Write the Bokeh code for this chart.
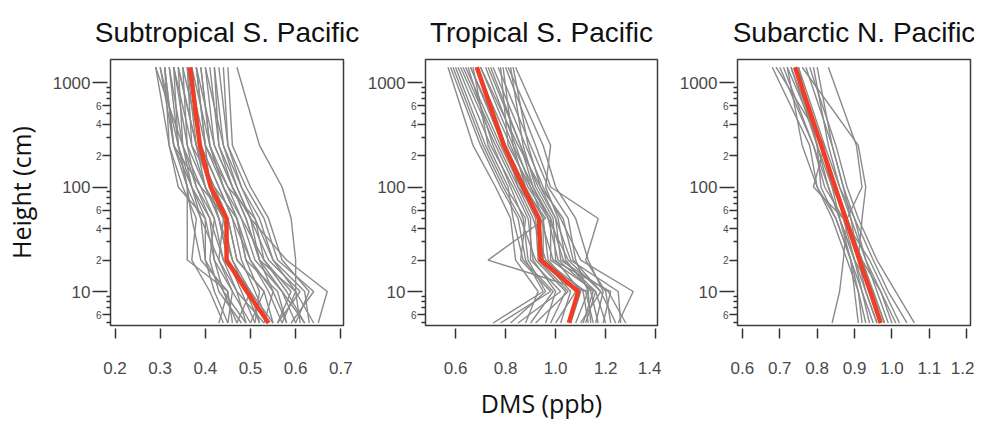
from bokeh.plotting import figure
from bokeh.models import LogAxis, FixedTicker, PrintfTickFormatter, Range1d
from bokeh.layouts import row
from bokeh.embed import file_html
from bokeh.resources import INLINE

# ---------------- data ----------------
heights = [5, 10, 20, 50, 100, 250, 1400]  # cm

titles = ["Subtropical S. Pacific", "Tropical S. Pacific", "Subarctic N. Pacific"]
x_ticks = [[0.2, 0.3, 0.4, 0.5, 0.6, 0.7],
           [0.6, 0.8, 1.0, 1.2, 1.4],
           [0.6, 0.7, 0.8, 0.9, 1.0, 1.1, 1.2]]
x_ranges = [(0.19, 0.706), (0.48, 1.407), (0.587, 1.21)]
y_lims = (4.73, 1660)
y_major = [10, 100, 1000]
y_minor_labelled = [2, 4, 6, 20, 40, 60, 200, 400, 600]
y_minor = [3, 5, 7, 8, 9, 30, 50, 70, 80, 90, 300, 500, 700, 800, 900]

# DMS (ppb) at each height, one list per profile
subtropical_profiles = [
    [0.47, 0.44, 0.40, 0.40, 0.37, 0.34, 0.30],
    [0.50, 0.46, 0.42, 0.41, 0.38, 0.35, 0.32],
    [0.52, 0.50, 0.46, 0.43, 0.40, 0.37, 0.33],
    [0.55, 0.53, 0.47, 0.45, 0.42, 0.38, 0.34],
    [0.58, 0.56, 0.49, 0.47, 0.44, 0.40, 0.36],
    [0.61, 0.60, 0.52, 0.49, 0.46, 0.42, 0.38],
    [0.63, 0.62, 0.55, 0.51, 0.48, 0.44, 0.40],
    [0.65, 0.67, 0.58, 0.50, 0.47, 0.43, 0.41],
    [0.44, 0.41, 0.37, 0.38, 0.35, 0.32, 0.29],
    [0.46, 0.45, 0.36, 0.36, 0.36, 0.33, 0.31],
    [0.57, 0.60, 0.60, 0.59, 0.57, 0.52, 0.47],
    [0.49, 0.47, 0.44, 0.42, 0.39, 0.33, 0.31],
    [0.53, 0.55, 0.50, 0.46, 0.43, 0.39, 0.35],
    [0.60, 0.57, 0.51, 0.48, 0.45, 0.41, 0.37],
    [0.45, 0.46, 0.43, 0.44, 0.40, 0.36, 0.33],
    [0.56, 0.61, 0.54, 0.50, 0.47, 0.44, 0.42],
    [0.51, 0.48, 0.45, 0.43, 0.41, 0.38, 0.34],
    [0.62, 0.58, 0.53, 0.48, 0.44, 0.41, 0.39],
    [0.48, 0.43, 0.41, 0.42, 0.38, 0.36, 0.35],
    [0.54, 0.51, 0.48, 0.46, 0.43, 0.39, 0.37],
    [0.59, 0.64, 0.56, 0.53, 0.49, 0.45, 0.43],
    [0.43, 0.45, 0.39, 0.37, 0.36, 0.34, 0.32],
    [0.57, 0.54, 0.50, 0.47, 0.42, 0.37, 0.36],
    [0.52, 0.49, 0.46, 0.44, 0.41, 0.40, 0.38],
    [0.64, 0.60, 0.55, 0.52, 0.48, 0.45, 0.44],
    [0.50, 0.53, 0.47, 0.45, 0.39, 0.35, 0.34],
    [0.55, 0.50, 0.44, 0.41, 0.37, 0.33, 0.30],
    [0.47, 0.50, 0.45, 0.43, 0.40, 0.38, 0.36],
    [0.60, 0.63, 0.57, 0.54, 0.50, 0.46, 0.45],
    [0.53, 0.47, 0.43, 0.39, 0.36, 0.34, 0.33],
    [0.58, 0.55, 0.52, 0.49, 0.46, 0.42, 0.40],
    [0.49, 0.44, 0.42, 0.40, 0.34, 0.32, 0.31],
    [0.56, 0.59, 0.53, 0.51, 0.45, 0.40, 0.38],
    [0.51, 0.52, 0.49, 0.47, 0.44, 0.41, 0.39],
    [0.62, 0.57, 0.52, 0.50, 0.46, 0.43, 0.42],
    [0.45, 0.42, 0.40, 0.39, 0.37, 0.35, 0.29],
]
subtropical_median = [0.540, 0.492, 0.447, 0.447, 0.412, 0.388, 0.366]

tropical_profiles = [
    [0.78, 0.98, 0.86, 0.88, 0.80, 0.72, 0.60],
    [0.85, 1.02, 0.90, 0.90, 0.84, 0.76, 0.62],
    [1.15, 1.12, 0.95, 0.95, 0.88, 0.80, 0.66],
    [1.20, 1.16, 0.98, 0.98, 0.91, 0.83, 0.70],
    [1.28, 1.21, 1.02, 1.00, 0.93, 0.86, 0.73],
    [0.92, 1.05, 0.93, 0.92, 0.86, 0.78, 0.64],
    [1.10, 1.18, 1.05, 0.97, 0.89, 0.82, 0.68],
    [1.00, 1.08, 0.97, 0.95, 0.90, 0.84, 0.72],
    [1.25, 1.31, 1.10, 1.02, 0.95, 0.88, 0.75],
    [1.14, 1.13, 0.73, 0.96, 0.87, 0.79, 0.66],
    [1.22, 1.20, 1.12, 1.17, 0.98, 0.92, 0.80],
    [0.75, 0.95, 0.88, 0.85, 0.78, 0.70, 0.58],
    [1.06, 1.10, 1.00, 0.99, 0.92, 0.87, 0.82],
    [1.17, 1.14, 1.04, 1.01, 0.96, 0.98, 0.84],
    [0.96, 1.00, 0.91, 0.89, 0.83, 0.74, 0.61],
    [1.12, 1.16, 1.03, 0.98, 0.90, 0.81, 0.78],
    [1.24, 1.18, 1.07, 1.03, 0.94, 0.85, 0.70],
    [0.88, 0.93, 0.84, 0.82, 0.76, 0.67, 0.57],
    [1.08, 1.13, 1.08, 1.05, 0.97, 0.90, 0.77],
    [1.19, 1.22, 0.99, 0.94, 0.85, 0.77, 0.63],
    [1.02, 1.06, 0.95, 0.93, 0.88, 0.83, 0.79],
    [1.16, 1.19, 1.13, 1.08, 1.00, 0.95, 0.81],
    [0.82, 0.96, 0.89, 0.87, 0.82, 0.75, 0.65],
    [1.13, 1.11, 0.96, 0.91, 0.85, 0.80, 0.69],
    [1.26, 1.25, 1.06, 1.00, 0.94, 0.89, 0.83],
    [0.98, 1.04, 0.92, 0.86, 0.79, 0.71, 0.59],
    [1.11, 1.15, 1.01, 0.97, 0.91, 0.86, 0.74],
    [0.90, 0.99, 0.87, 0.83, 0.81, 0.73, 0.67],
]
tropical_median = [1.053, 1.090, 0.940, 0.933, 0.870, 0.793, 0.685]

subarctic_profiles = [
    [0.96, 0.93, 0.90, 0.86, 0.83, 0.79, 0.70],
    [0.98, 0.95, 0.92, 0.88, 0.85, 0.81, 0.72],
    [1.00, 0.97, 0.93, 0.89, 0.86, 0.82, 0.75],
    [1.04, 0.99, 0.95, 0.90, 0.87, 0.84, 0.77],
    [1.06, 1.01, 0.96, 0.91, 0.88, 0.85, 0.78],
    [0.84, 0.86, 0.87, 0.88, 0.92, 0.905, 0.83],
    [0.93, 0.91, 0.88, 0.84, 0.80, 0.78, 0.68],
    [0.95, 0.92, 0.89, 0.85, 0.81, 0.80, 0.73],
    [0.97, 0.94, 0.91, 0.92, 0.93, 0.91, 0.76],
    [1.02, 0.98, 0.94, 0.87, 0.79, 0.82, 0.69],
    [0.91, 0.90, 0.89, 0.86, 0.84, 0.80, 0.74],
    [0.99, 0.96, 0.93, 0.90, 0.86, 0.83, 0.79],
    [0.94, 0.92, 0.90, 0.87, 0.82, 0.79, 0.71],
    [1.01, 0.97, 0.92, 0.88, 0.84, 0.81, 0.73],
    [0.96, 0.93, 0.91, 0.89, 0.87, 0.84, 0.80],
    [0.92, 0.91, 0.89, 0.85, 0.80, 0.76, 0.72],
    [0.98, 0.95, 0.90, 0.86, 0.83, 0.80, 0.75],
]
subarctic_median = [0.970, 0.942, 0.913, 0.876, 0.848, 0.811, 0.741]

profiles = [subtropical_profiles, tropical_profiles, subarctic_profiles]
medians = [subtropical_median, tropical_median, subarctic_median]

# ---------------- styling ----------------
GRAY = "#8a8a8a"
RED = "#ef3d26"
TICK_LABEL_COLOR = "#4a4a4a"
LABEL_FONT = "Liberation Sans"
AXIS_TITLE_FONT = "Open Sans"

left_borders = [104, 65, 76]
right_borders = [17, 4, 4]
title_offsets = [-6, 0, -6]


def make_panel(i):
    p = figure(frame_width=233 if i != 1 else 232, frame_height=266,
               x_range=Range1d(*x_ranges[i]), y_range=Range1d(*y_lims),
               y_axis_type="log", y_axis_location=None,
               output_backend="svg", toolbar_location=None,
               min_border_left=left_borders[i], min_border_right=right_borders[i],
               min_border_top=59, min_border_bottom=92,
               background_fill_color="white", border_fill_color="white")
    p.grid.visible = False
    p.outline_line_color = "#3c3c3c"
    p.outline_line_width = 1.5

    p.title.text = titles[i]
    p.title.text_font = LABEL_FONT
    p.title.text_font_size = "28px"
    p.title.text_font_style = "normal"
    p.title.text_color = "#111111"
    p.title.align = "center"
    p.title.standoff = 23
    p.title.offset = title_offsets[i]

    # x axis: detached ticks below the frame, no axis line
    xa = p.xaxis[0]
    xa.ticker = FixedTicker(ticks=x_ticks[i], minor_ticks=[])
    xa.formatter = PrintfTickFormatter(format="%.1f")
    xa.axis_line_color = None
    xa.major_tick_in = -3
    xa.major_tick_out = 13
    xa.major_tick_line_color = "#333333"
    xa.major_tick_line_width = 1.5
    xa.minor_tick_out = 0
    xa.minor_tick_in = 0
    xa.major_label_standoff = 23
    xa.major_label_text_font = LABEL_FONT
    xa.major_label_text_font_size = "17px"
    xa.major_label_text_color = TICK_LABEL_COLOR
    if i == 1:
        xa.axis_label = "DMS (ppb)"
        xa.axis_label_text_font = AXIS_TITLE_FONT
        xa.axis_label_text_font_size = "25px"
        xa.axis_label_text_font_style = "normal"
        xa.axis_label_text_color = "#111111"
        xa.axis_label_standoff = 9

    # inner y axis: small ticks with tiny 2/4/6 labels
    overrides_small = {v: str(int(v / 10 ** (len(str(v)) - 1))) for v in y_minor_labelled}
    ya = LogAxis(ticker=FixedTicker(ticks=y_minor_labelled, minor_ticks=y_minor),
                 major_label_overrides=overrides_small,
                 axis_line_color=None,
                 major_tick_in=0, major_tick_out=8,
                 minor_tick_in=0, minor_tick_out=4,
                 major_tick_line_color="#333333", minor_tick_line_color="#333333",
                 major_tick_line_width=1.5, minor_tick_line_width=1.5,
                 major_label_standoff=1,
                 major_label_text_font=LABEL_FONT,
                 major_label_text_font_size="10px",
                 major_label_text_color=TICK_LABEL_COLOR)
    p.add_layout(ya, "left")

    # outer y axis: decade labels with long ticks reaching the frame
    yb = LogAxis(ticker=FixedTicker(ticks=y_major, minor_ticks=[]),
                 major_label_overrides={v: str(v) for v in y_major},
                 axis_line_color=None,
                 major_tick_in=15, major_tick_out=0,
                 minor_tick_in=0, minor_tick_out=0,
                 major_tick_line_color="#333333", major_tick_line_width=1.5,
                 major_label_standoff=2,
                 major_label_text_font=LABEL_FONT,
                 major_label_text_font_size="17px",
                 major_label_text_color=TICK_LABEL_COLOR)
    if i == 0:
        yb.axis_label = "Height (cm)"
        yb.axis_label_text_font = AXIS_TITLE_FONT
        yb.axis_label_text_font_size = "25px"
        yb.axis_label_text_font_style = "normal"
        yb.axis_label_text_color = "#111111"
        yb.axis_label_standoff = 12
    p.add_layout(yb, "left")

    n = len(profiles[i])
    p.multi_line(xs=profiles[i], ys=[heights] * n, line_color=GRAY, line_width=1.4)
    p.line(medians[i], heights, line_color=RED, line_width=4.5)
    return p


panels = [make_panel(i) for i in range(3)]
layout = row(*panels)

open("out.html", "w").write(file_html(layout, INLINE))
